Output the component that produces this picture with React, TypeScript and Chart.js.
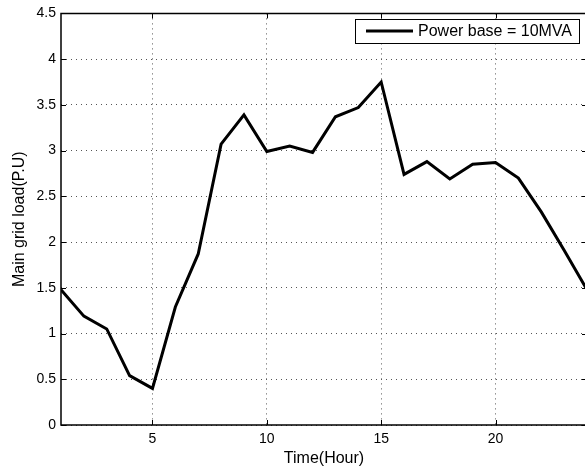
import React, { useEffect, useRef } from "react";
import { Chart, registerables } from "chart.js";

Chart.register(...registerables);

const hours = [1, 2, 3, 4, 5, 6, 7, 8, 9, 10, 11, 12, 13, 14, 15, 16, 17, 18, 19, 20, 21, 22, 23, 24];
const load = [1.48, 1.19, 1.05, 0.54, 0.40, 1.29, 1.87, 3.07, 3.39, 2.99, 3.05, 2.98, 3.37, 3.47, 3.75, 2.74, 2.88, 2.69, 2.85, 2.87, 2.70, 2.33, 1.91, 1.48];
const xTicks = [5, 10, 15, 20];
const yTicks = [0, 0.5, 1, 1.5, 2, 2.5, 3, 3.5, 4, 4.5];
const seriesLabel = "Power base = 10MVA";
const xTitle = "Time(Hour)";
const yTitle = "Main grid load(P.U)";

const FONT = "'Liberation Sans', Arial, Helvetica, sans-serif";

const framePlugin = {
  id: "frame",
  afterDatasetsDraw(chart: any) {
    const { ctx, chartArea } = chart;
    const { left, right, top, bottom } = chartArea;
    const xs = chart.scales.x;
    const ys = chart.scales.y;
    ctx.save();
    ctx.strokeStyle = "#000";
    ctx.lineWidth = 1;
    ctx.setLineDash([]);
    // inner ticks
    ctx.beginPath();
    xTicks.forEach((t) => {
      const px = Math.round(xs.getPixelForValue(t)) + 0.5;
      ctx.moveTo(px, bottom);
      ctx.lineTo(px, bottom - 5);
      ctx.moveTo(px, top);
      ctx.lineTo(px, top + 5);
    });
    yTicks.forEach((t) => {
      const py = Math.round(ys.getPixelForValue(t)) + 0.5;
      ctx.moveTo(left, py);
      ctx.lineTo(left + 5, py);
      ctx.moveTo(right, py);
      ctx.lineTo(right - 5, py);
    });
    ctx.stroke();
    // box (right side falls outside the picture)
    ctx.lineWidth = 1.5;
    ctx.beginPath();
    ctx.moveTo(right, top);
    ctx.lineTo(left, top);
    ctx.lineTo(left, bottom);
    ctx.lineTo(right, bottom);
    ctx.stroke();
    // legend
    const bx = 355.5, by = 19.5, bw = 224, bh = 24;
    ctx.fillStyle = "#fff";
    ctx.fillRect(bx, by, bw, bh);
    ctx.lineWidth = 1;
    ctx.strokeRect(bx, by, bw, bh);
    ctx.lineWidth = 3;
    ctx.beginPath();
    ctx.moveTo(366, 31);
    ctx.lineTo(413, 31);
    ctx.stroke();
    ctx.fillStyle = "#000";
    ctx.font = `16px ${FONT}`;
    ctx.textBaseline = "middle";
    ctx.textAlign = "left";
    ctx.fillText(seriesLabel, 418, 31.5);
    ctx.restore();
  },
};

export default function App() {
  const ref = useRef<HTMLCanvasElement>(null);
  useEffect(() => {
    if (!ref.current) return;
    const chart = new Chart(ref.current, {
      type: "line",
      data: {
        datasets: [
          {
            label: seriesLabel,
            data: hours.map((h, i) => ({ x: h, y: load[i] })),
            borderColor: "#000",
            borderWidth: 3,
            pointRadius: 0,
            tension: 0,
            fill: false,
            borderJoinStyle: "miter",
          },
        ],
      },
      options: {
        responsive: false,
        animation: false,
        layout: { padding: { top: 10, right: 0, left: 0, bottom: 0 } },
        plugins: { legend: { display: false }, tooltip: { enabled: false } },
        scales: {
          x: {
            type: "linear",
            min: 1,
            max: 24,
            afterBuildTicks: (s: any) => {
              s.ticks = xTicks.map((v) => ({ value: v }));
            },
            afterFit: (s: any) => {
              s.height = 45;
            },
            ticks: {
              color: "#000",
              font: { family: FONT, size: 14 },
              padding: 6,
              maxRotation: 0,
              callback: (v: any) => String(v),
            },
            grid: { color: "#555", lineWidth: 1, drawTicks: false },
            border: { display: false, dash: [1, 4] },
            title: {
              display: true,
              text: xTitle,
              color: "#000",
              font: { family: FONT, size: 16 },
              padding: { top: 0, bottom: 2 },
            },
          },
          y: {
            min: 0,
            max: 4.5,
            afterBuildTicks: (s: any) => {
              s.ticks = yTicks.map((v) => ({ value: v }));
            },
            afterFit: (s: any) => {
              s.width = 61;
            },
            ticks: {
              color: "#000",
              font: { family: FONT, size: 14 },
              padding: 5,
              callback: (v: any) => String(v),
            },
            grid: { color: "#555", lineWidth: 1, drawTicks: false },
            border: { display: false, dash: [1, 4] },
            title: {
              display: true,
              text: yTitle,
              color: "#000",
              font: { family: FONT, size: 16 },
              padding: { top: 10, bottom: 0 },
            },
          },
        },
      },
      plugins: [framePlugin],
    } as any);
    return () => chart.destroy();
  }, []);
  return (
    <div style={{ position: "absolute", left: 0, top: 0, width: 585, height: 470, overflow: "hidden", background: "#fff" }}>
      <canvas ref={ref} width={587} height={470} style={{ display: "block" }} />
    </div>
  );
}
